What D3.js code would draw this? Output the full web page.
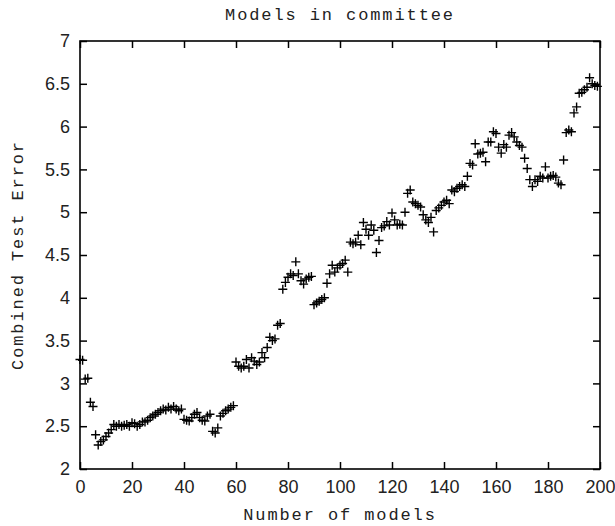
<!DOCTYPE html>
<html>
<head>
<meta charset="utf-8">
<script src="https://cdn.jsdelivr.net/npm/d3@7"></script>
<style>
  body { margin: 0; background: #fff; }
  .tick text { font-family: "Liberation Sans", sans-serif; font-size: 18px; fill: #222; }
  .lbl { font-family: "Liberation Mono", monospace; font-size: 17px; letter-spacing: 1.9px; fill: #222; }
</style>
</head>
<body>
<div class="canvas"></div>
<script>
// committee size (x) and combined test error (y)
const models = d3.range(0, 200);
const errors = [
  3.28, 3.27, 3.05, 3.06, 2.78, 2.73, 2.40, 2.28, 2.32, 2.34,
  2.38, 2.42, 2.46, 2.52, 2.50, 2.52, 2.50, 2.51, 2.52, 2.50,
  2.54, 2.53, 2.50, 2.52, 2.55, 2.55, 2.57, 2.60, 2.62, 2.64,
  2.66, 2.68, 2.70, 2.69, 2.72, 2.70, 2.73, 2.70, 2.68, 2.70,
  2.58, 2.57, 2.56, 2.60, 2.64, 2.66, 2.60, 2.57, 2.56, 2.62,
  2.64, 2.44, 2.42, 2.48, 2.62, 2.65, 2.68, 2.70, 2.72, 2.74,
  3.25, 3.20, 3.18, 3.20, 3.28, 3.18, 3.30, 3.26, 3.22, 3.25,
  3.36, 3.30, 3.42, 3.54, 3.50, 3.52, 3.68, 3.70, 4.10, 4.18,
  4.24, 4.28, 4.26, 4.42, 4.28, 4.20, 4.16, 4.22, 4.24, 4.25,
  3.92, 3.94, 3.96, 3.98, 4.00, 4.17, 4.28, 4.38, 4.30, 4.35,
  4.38, 4.40, 4.44, 4.30, 4.65, 4.63, 4.65, 4.73, 4.62, 4.88,
  4.80, 4.73, 4.85, 4.79, 4.53, 4.67, 4.82, 4.84, 4.89, 4.85,
  4.99, 4.91, 4.85, 4.86, 4.85, 5.00, 5.22, 5.26, 5.12, 5.10,
  5.08, 5.06, 4.97, 4.91, 4.88, 4.94, 4.77, 5.02, 5.05, 5.08,
  5.12, 5.14, 5.10, 5.26, 5.24, 5.28, 5.30, 5.32, 5.30, 5.42,
  5.57, 5.55, 5.80, 5.68, 5.69, 5.70, 5.59, 5.82, 5.82, 5.94,
  5.92, 5.76, 5.69, 5.79, 5.76, 5.90, 5.93, 5.88, 5.82, 5.78,
  5.76, 5.63, 5.51, 5.38, 5.30, 5.38, 5.36, 5.42, 5.40, 5.53,
  5.40, 5.42, 5.43, 5.41, 5.34, 5.32, 5.61, 5.93, 5.96, 5.94,
  6.16, 6.23, 6.39, 6.40, 6.43, 6.46, 6.57, 6.50, 6.48, 6.47
];
const xTicks = d3.range(0, 201, 20);
const yTicks = d3.range(2, 7.01, 0.5);

const margin = { top: 41, right: 15, bottom: 57, left: 80 };
const width = 615, height = 526;
const graphWidth = width - margin.left - margin.right;
const graphHeight = height - margin.top - margin.bottom;

const svg = d3.select(".canvas").append("svg")
  .attr("width", width)
  .attr("height", height);

const graph = svg.append("g")
  .attr("transform", `translate(${margin.left}, ${margin.top})`);

const x = d3.scaleLinear().domain([0, 200]).range([0, graphWidth]);
const y = d3.scaleLinear().domain([2, 7]).range([graphHeight, 0]);

const fmtY = d => d % 1 === 0 ? d3.format("d")(d) : d3.format(".1f")(d);

// axes with inward ticks, gnuplot style, mirrored on top/right
const styleAxis = g => {
  g.select(".domain").remove();
  g.selectAll(".tick line").attr("stroke", "#000").attr("stroke-width", 1.5);
};

graph.append("g")
  .attr("transform", `translate(0,${graphHeight})`)
  .call(d3.axisBottom(x).tickValues(xTicks).tickSize(-7).tickPadding(11).tickFormat(d3.format("d")))
  .call(styleAxis);
graph.append("g")
  .call(d3.axisTop(x).tickValues(xTicks).tickSize(-7).tickFormat(""))
  .call(styleAxis);
graph.append("g")
  .call(d3.axisLeft(y).tickValues(yTicks).tickSize(-7).tickPadding(10).tickFormat(fmtY))
  .call(styleAxis);
graph.append("g")
  .attr("transform", `translate(${graphWidth},0)`)
  .call(d3.axisRight(y).tickValues(yTicks).tickSize(-7).tickFormat(""))
  .call(styleAxis);

graph.selectAll(".tick text").attr("font-family", null).attr("font-size", null);

// frame
graph.append("rect")
  .attr("width", graphWidth)
  .attr("height", graphHeight)
  .attr("fill", "none")
  .attr("stroke", "#000")
  .attr("stroke-width", 1.6);

// points as '+'
graph.append("g").selectAll("path")
  .data(models.map((m, i) => ({ m, e: errors[i] })))
  .enter().append("path")
    .attr("transform", d => `translate(${x(d.m)},${y(d.e)})`)
    .attr("d", "M-4.5,0H4.5M0,-4.5V4.5")
    .attr("stroke", "#000")
    .attr("stroke-width", 1.4)
    .attr("fill", "none");

// labels
svg.append("text").attr("class", "lbl")
  .attr("x", margin.left + graphWidth / 2).attr("y", 20)
  .attr("text-anchor", "middle")
  .text("Models in committee");
svg.append("text").attr("class", "lbl")
  .attr("x", margin.left + graphWidth / 2).attr("y", 520)
  .attr("text-anchor", "middle")
  .text("Number of models");
svg.append("text").attr("class", "lbl")
  .attr("transform", `translate(23,${margin.top + graphHeight / 2}) rotate(-90)`)
  .attr("text-anchor", "middle")
  .text("Combined Test Error");
</script>
</body>
</html>
